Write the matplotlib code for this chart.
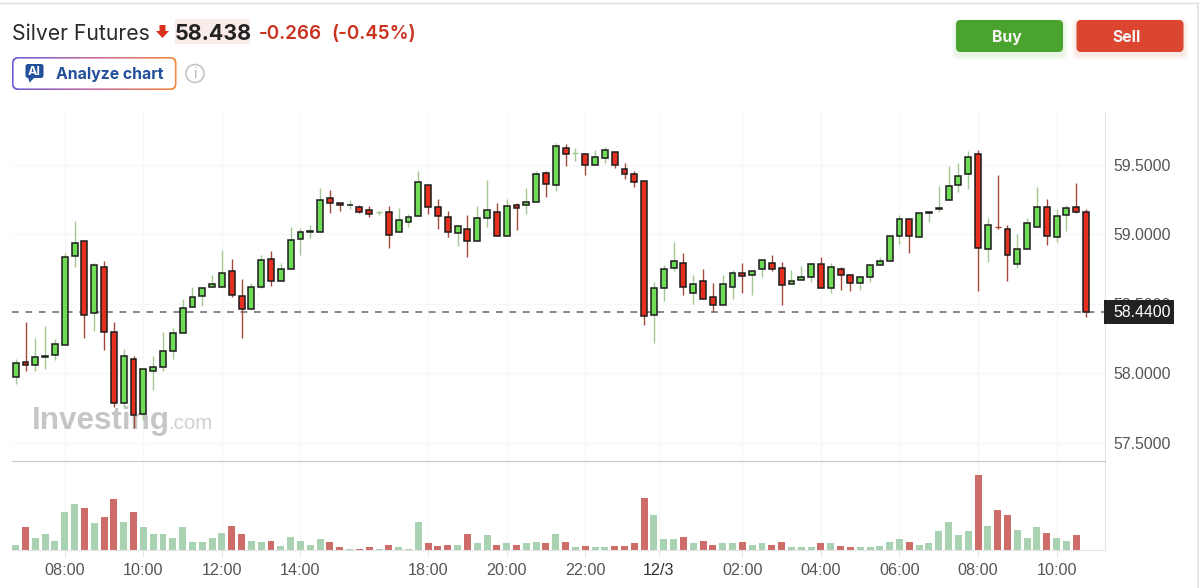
import numpy as np
import matplotlib
matplotlib.use("Agg")
import matplotlib.pyplot as plt
from matplotlib.patches import FancyBboxPatch, Rectangle, Circle, Polygon

# 15 minute candles
opens = [57.969, 58.084, 58.056, 58.120, 58.132, 58.200, 58.846, 58.950, 58.431, 58.767,
         58.296, 57.786, 58.104, 57.709, 58.017, 58.046, 58.161, 58.286, 58.479, 58.556,
         58.623, 58.623, 58.738, 58.556, 58.459, 58.623, 58.825, 58.661, 58.748, 58.969,
         59.019, 59.017, 59.260, 59.229, 59.209, 59.200, 59.173, 59.159, 59.164, 59.017,
         59.087, 59.132, 59.356, 59.200, 59.125, 59.007, 59.039, 58.950, 59.116, 59.164,
         58.988, 59.212, 59.209, 59.231, 59.443, 59.354, 59.625, 59.582, 59.577, 59.500,
         59.548, 59.596, 59.471, 59.433, 59.385, 58.421, 58.613, 58.757, 58.796, 58.575,
         58.661, 58.546, 58.488, 58.623, 58.719, 58.709, 58.748, 58.796, 58.757, 58.642,
         58.671, 58.690, 58.786, 58.613, 58.748, 58.709, 58.652, 58.690, 58.777, 58.806,
         58.988, 59.113, 58.979, 59.154, 59.185, 59.250, 59.356, 59.433, 59.577, 58.892,
         59.056, 59.039, 58.786, 58.892, 59.056, 59.200, 58.979, 59.142, 59.200, 59.164]
closes = [58.075, 58.056, 58.113, 58.125, 58.209, 58.837, 58.940, 58.421, 58.777, 58.296,
          57.786, 58.123, 57.700, 58.027, 58.046, 58.161, 58.286, 58.469, 58.546, 58.613,
          58.642, 58.719, 58.565, 58.459, 58.623, 58.818, 58.661, 58.748, 58.959, 59.017,
          59.027, 59.250, 59.229, 59.209, 59.214, 59.161, 59.149, 59.160, 58.998, 59.106,
          59.125, 59.375, 59.200, 59.132, 59.017, 59.058, 58.950, 59.116, 59.173, 58.988,
          59.202, 59.190, 59.231, 59.433, 59.366, 59.635, 59.577, 59.583, 59.500, 59.558,
          59.606, 59.500, 59.433, 59.375, 58.409, 58.613, 58.748, 58.806, 58.623, 58.644,
          58.536, 58.488, 58.642, 58.719, 58.700, 58.738, 58.815, 58.748, 58.632, 58.661,
          58.690, 58.786, 58.613, 58.767, 58.709, 58.652, 58.690, 58.777, 58.806, 58.988,
          59.113, 58.988, 59.152, 59.161, 59.193, 59.346, 59.423, 59.558, 58.904, 59.065,
          59.054, 58.854, 58.892, 59.084, 59.200, 58.988, 59.132, 59.190, 59.161, 58.440]
highs = [58.099, 58.366, 58.250, 58.337, 58.243, 58.863, 59.099, 58.950, 58.796, 58.810,
         58.366, 58.176, 58.123, 58.027, 58.125, 58.298, 58.325, 58.536, 58.618, 58.623,
         58.705, 58.887, 58.820, 58.676, 58.647, 58.849, 58.878, 58.796, 59.051, 59.044,
         59.070, 59.332, 59.320, 59.236, 59.248, 59.214, 59.205, 59.171, 59.205, 59.188,
         59.147, 59.457, 59.356, 59.253, 59.166, 59.058, 59.137, 59.205, 59.390, 59.224,
         59.253, 59.224, 59.332, 59.459, 59.455, 59.657, 59.649, 59.620, 59.589, 59.608,
         59.628, 59.596, 59.512, 59.455, 59.385, 58.657, 58.782, 58.945, 58.868, 58.705,
         58.753, 58.647, 58.705, 58.743, 58.791, 58.738, 58.815, 58.849, 58.798, 58.743,
         58.772, 58.796, 58.839, 58.791, 58.762, 58.714, 58.690, 58.777, 58.839, 58.988,
         59.137, 59.113, 59.157, 59.171, 59.349, 59.495, 59.512, 59.599, 59.608, 59.118,
         59.426, 59.070, 59.003, 59.118, 59.339, 59.253, 59.185, 59.214, 59.368, 59.185]
lows = [57.921, 58.012, 58.012, 58.027, 58.094, 58.200, 58.767, 58.255, 58.303, 58.166,
        57.753, 57.753, 57.604, 57.666, 57.878, 58.012, 58.099, 58.286, 58.479, 58.483,
        58.623, 58.623, 58.551, 58.253, 58.459, 58.613, 58.628, 58.661, 58.748, 58.851,
        58.974, 59.017, 59.157, 59.169, 59.185, 59.152, 59.128, 59.140, 58.899, 59.017,
        59.056, 59.132, 59.149, 59.041, 58.983, 58.919, 58.839, 58.950, 59.053, 58.988,
        58.988, 59.034, 59.149, 59.231, 59.272, 59.315, 59.495, 59.527, 59.431, 59.500,
        59.517, 59.481, 59.402, 59.344, 58.349, 58.214, 58.517, 58.738, 58.565, 58.498,
        58.536, 58.445, 58.488, 58.532, 58.580, 58.560, 58.695, 58.738, 58.493, 58.642,
        58.671, 58.657, 58.613, 58.580, 58.599, 58.589, 58.599, 58.657, 58.777, 58.806,
        58.931, 58.863, 58.979, 59.089, 59.161, 59.250, 59.306, 59.325, 58.589, 58.801,
        59.036, 58.666, 58.755, 58.892, 59.056, 58.926, 58.945, 59.027, 59.152, 58.406]
# no bar under the last candle in the original
volumes = [14, 66, 34, 46, 26, 111, 135, 123, 78, 98,
           150, 82, 111, 66, 46, 46, 34, 66, 22, 22,
           34, 50, 70, 46, 26, 22, 26, 10, 38, 26,
           14, 30, 22, 6, 2, 2, 6, 1, 14, 6,
           2, 82, 18, 10, 14, 14, 46, 18, 42, 14,
           18, 14, 18, 22, 18, 46, 22, 6, 10, 6,
           6, 10, 10, 18, 154, 102, 30, 30, 38, 18,
           26, 14, 18, 18, 22, 14, 18, 14, 22, 6,
           6, 6, 18, 18, 10, 6, 6, 6, 10, 22,
           30, 22, 14, 18, 54, 82, 42, 54, 223, 70,
           118, 102, 58, 34, 66, 50, 34, 26, 42]
time_ticks = [5, 13, 21, 29, 42, 50, 58, 65.5, 74, 82, 90, 98, 106]
time_labels = ["08:00", "10:00", "12:00", "14:00", "18:00", "20:00", "22:00",
               "12/3", "02:00", "04:00", "06:00", "08:00", "10:00"]
price_ticks = [57.5, 58.0, 58.5, 59.0, 59.5]
last_price = 58.44

UP_BODY = "#6fdc55"
DOWN_BODY = "#e5301f"
UP_WICK = "#a3c795"
DOWN_WICK = "#a5483c"
EDGE = "#1c1c1c"
UP_VOL = "#a8d2b2"
DOWN_VOL = "#cd6c68"
GRID = "#f7f7f7"
BORDER = "#e4e4e4"
TICK_TEXT = "#555555"
FONT = "Inter"
AXIS_FONT = "Liberation Sans"

opens = np.array(opens)
closes = np.array(closes)
highs = np.array(highs)
lows = np.array(lows)
x = np.arange(len(opens))
up = closes >= opens
flat = np.abs(closes - opens) < 0.003

fig = plt.figure(figsize=(12, 5.88), dpi=100, facecolor="white")


def px_axes(left, top, right, bottom):
    """Axes from picture pixel edges."""
    return fig.add_axes([left / 1200, 1 - bottom / 588, (right - left) / 1200, (bottom - top) / 588])


ax = px_axes(12, 112, 1105, 461)
vol_ax = px_axes(12, 462, 1105, 549.5)

# --- price panel ---
ax.set_xlim(-0.377, 110.93)
ax.set_ylim(57.367, 59.882)
ax.set_facecolor("none")
for name, spine in ax.spines.items():
    spine.set_visible(name == "right")
    spine.set_color(BORDER)
ax.spines["bottom"].set_visible(True)
ax.spines["bottom"].set_color("#cccccc")
ax.spines["bottom"].set_linewidth(0.9)
ax.set_xticks(time_ticks)
ax.set_yticks(price_ticks)
ax.yaxis.tick_right()
ax.set_yticklabels([f"{p:.4f}" for p in price_ticks], fontsize=11.4, family=AXIS_FONT, color=TICK_TEXT)
ax.tick_params(axis="y", length=0, pad=6)
ax.tick_params(axis="x", length=0, labelbottom=False)
ax.grid(True, color=GRID, lw=1)
ax.set_axisbelow(True)

ax.text(31.5 / 9.82 - 1.6, 57.655, "Investing", fontsize=22.6, fontweight="bold", family=AXIS_FONT,
        color="#c6c6c6", va="center", zorder=1)
ax.text(15.5, 57.635, ".com", fontsize=14.8, family=AXIS_FONT, color="#d0d0d0", va="center", zorder=1)

ax.axhline(last_price, color="#666666", lw=1.1, linestyle=(0, (4.4, 4.4)), zorder=2)

wick_colors = [UP_WICK if u else DOWN_WICK for u in up]
ax.vlines(x, lows, highs, colors=wick_colors, lw=1.0, zorder=3)
ax.hlines(closes[flat], x[flat] - 0.3, x[flat] + 0.3, colors=np.array(wick_colors)[flat], lw=1.0, zorder=3)
body_x = x[~flat]
body_low = np.minimum(opens, closes)[~flat]
body_h = np.abs(closes - opens)[~flat]
body_colors = [UP_BODY if u else DOWN_BODY for u in up[~flat]]
ax.bar(body_x, body_h, bottom=body_low, width=0.6, color=body_colors, edgecolor=EDGE, linewidth=1.1, zorder=4)

# --- volume panel ---
vol_ax.set_xlim(ax.get_xlim())
vol_ax.set_ylim(0, 262)
vol_ax.set_facecolor("none")
for name, spine in vol_ax.spines.items():
    spine.set_visible(name in ("right", "bottom"))
    spine.set_color(BORDER)
vol_ax.set_xticks(time_ticks)
vol_ax.set_xticklabels(time_labels, fontsize=11.6, family=AXIS_FONT, color=TICK_TEXT)
vol_ax.get_xticklabels()[7].set_color("#333333")
vol_ax.set_yticks([])
vol_ax.tick_params(axis="x", length=5, color=BORDER, pad=5)
vol_ax.grid(True, axis="x", color=GRID, lw=1)
vol_ax.set_axisbelow(True)
vol_x = x[:len(volumes)]
vol_colors = [UP_VOL if u else DOWN_VOL for u in up[:len(volumes)]]
vol_ax.bar(vol_x, volumes, width=0.71, color=vol_colors, linewidth=0)

# --- header, drawn in picture pixels on top ---
top = fig.add_axes([0, 0, 1, 1], zorder=5)
top.set_xlim(0, 1200)
top.set_ylim(588, 0)
top.axis("off")
top.patch.set_visible(False)

top.plot([0, 1198], [3, 3], color="#dcdcdc", lw=1)
top.plot([1198, 1198], [3, 588], color="#e2e2e2", lw=1.2)

# price tag covers the 58.5000 label the way the original does
y_tag = 312.5
top.add_patch(Rectangle((1104, 300), 70, 24, facecolor="#222222", edgecolor="none"))
top.text(1113, y_tag, "58.4400", color="white", fontsize=11.4, family=AXIS_FONT, va="center", ha="left")

top.text(12, 33.5, "Silver Futures", fontsize=15.2, family=FONT, color="#2a2a2a", va="center")
top.add_patch(Polygon([[159.5, 25], [165.5, 25], [165.5, 31], [169, 31], [162.5, 38], [156, 31], [159.5, 31]],
                      facecolor="#d8301f", edgecolor="none"))
top.add_patch(Rectangle((175, 19), 75, 25, facecolor="#f9ecea", edgecolor="none"))
top.text(175, 34, "58.438", fontsize=15.4, fontweight="bold", family=FONT, color="#222222", va="center")
top.text(259, 34, "-0.266", fontsize=13.6, fontweight="semibold", family=FONT, color="#c9331f", va="center")
top.text(331, 34, "(-0.45%)", fontsize=13.6, fontweight="semibold", family=FONT, color="#c9331f", va="center")

# Analyze chart button with a gradient border
gradient = np.linspace(0, 1, 256).reshape(1, -1)
cmap = matplotlib.colors.LinearSegmentedColormap.from_list("ai", ["#6a5ad8", "#c86aa0", "#f08a3c"])
im = top.imshow(gradient, extent=(11, 177, 91, 56), aspect="auto", cmap=cmap, zorder=1)
outer_clip = FancyBboxPatch((12, 57), 164.5, 33, boxstyle="round,pad=0,rounding_size=6", facecolor="none",
                            edgecolor="none", transform=top.transData)
top.add_patch(outer_clip)
im.set_clip_path(outer_clip)
top.add_patch(FancyBboxPatch((13.6, 58.6), 161.3, 29.8, boxstyle="round,pad=0,rounding_size=5",
                             facecolor="white", edgecolor="none", zorder=2))
top.add_patch(FancyBboxPatch((25.5, 64), 18, 14, boxstyle="round,pad=0,rounding_size=2.5",
                             facecolor="#22509a", edgecolor="none", zorder=3))
top.add_patch(Polygon([[28, 77], [35, 77], [29.5, 82.5]], facecolor="#22509a", edgecolor="none", zorder=3))
top.text(34.5, 72, "AI", fontsize=9, fontweight="bold", family=FONT, color="white", ha="center", va="center", zorder=4)
top.text(56, 75, "Analyze chart", fontsize=11.4, fontweight="bold", family=FONT, color="#22509a", va="center", zorder=4)
top.add_patch(Circle((195, 73.5), 9, facecolor="none", edgecolor="#c4c4c4", lw=1.2))
top.text(195, 74.5, "i", fontsize=10, family=FONT, color="#b4b4b4", ha="center", va="center")

# Buy / Sell buttons, soft shadow is a few stacked translucent boxes
for left, width, color in [(956, 107, "#4aa32e"), (1076.5, 107, "#dc4530")]:
    for grow in [9, 6, 3]:
        top.add_patch(FancyBboxPatch((left - grow / 2, 20 + 3 - grow / 2), width + grow, 32 + grow,
                                     boxstyle="round,pad=0,rounding_size=6", facecolor=color, edgecolor="none",
                                     alpha=0.04))
    top.add_patch(FancyBboxPatch((left, 20), width, 32, boxstyle="round,pad=0,rounding_size=4.5",
                                 facecolor=color, edgecolor="none"))
top.text(1006.5, 37.5, "Buy", fontsize=11.4, fontweight="bold", family=FONT, color="#f4f4f4", ha="center", va="center")
top.text(1127, 37.5, "Sell", fontsize=11.4, fontweight="bold", family=FONT, color="#f4f4f4", ha="center", va="center")

top.set_xlim(0, 1200)
top.set_ylim(588, 0)

fig.savefig("out.png", dpi=100)
